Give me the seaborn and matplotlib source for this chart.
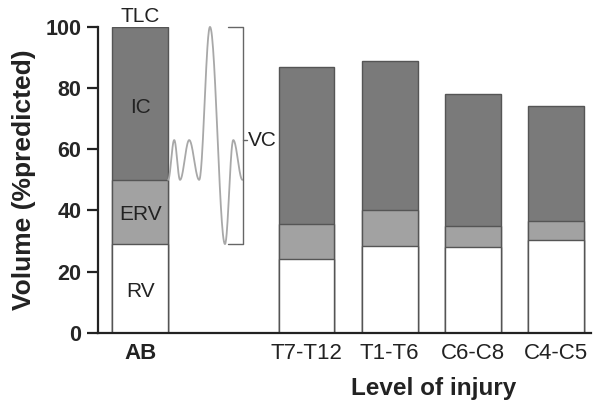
import numpy as np
import pandas as pd
import matplotlib
matplotlib.use("Agg")
import matplotlib.pyplot as plt
import seaborn as sns

sns.set_style("ticks")
plt.rcParams['font.family'] = ['Liberation Sans', 'DejaVu Sans']

groups = ["AB", "T7-T12", "T1-T6", "C6-C8", "C4-C5"]
order = ["AB", " ", "T7-T12", "T1-T6", "C6-C8", "C4-C5"]
rv = [29, 24.2, 28.5, 28.2, 30.2]
erv_top = [50, 35.6, 40, 35, 36.6]
tlc = [100, 87, 89, 78, 74]

df = pd.DataFrame({"group": groups, "rv": rv, "erv_top": erv_top, "tlc": tlc})

fig = plt.figure(figsize=(5.94, 4.01), dpi=100)
ax = fig.add_axes([0.165, 0.170, 0.83, 0.763])

edge = "#555555"
w = 0.67
sns.barplot(data=df, x="group", y="tlc", order=order, color="#7a7a7a",
            edgecolor=edge, linewidth=1.0, width=w, saturation=1, ax=ax)
sns.barplot(data=df, x="group", y="erv_top", order=order, color="#a2a2a2",
            edgecolor=edge, linewidth=1.0, width=w, saturation=1, ax=ax)
sns.barplot(data=df, x="group", y="rv", order=order, color="white",
            edgecolor=edge, linewidth=1.0, width=w, saturation=1, ax=ax)

# spirometry wave (decorative) built from extreme points with cosine segments
wx = [0.337, 0.41, 0.48, 0.59, 0.71, 0.84, 1.02, 1.12, 1.23]
wy = [50, 63, 50, 63, 50, 100, 29, 63, 50]
xs, ys = [], []
for i in range(len(wx) - 1):
    t = np.linspace(0, 1, 30)
    xs.extend(wx[i] + (wx[i + 1] - wx[i]) * t)
    ys.extend(wy[i] + (wy[i + 1] - wy[i]) * (1 - np.cos(np.pi * t)) / 2)
ax.plot(xs, ys, color="#a8a8a8", lw=1.3, clip_on=False)

# VC bracket
bx0, bx1 = 1.06, 1.24
ax.plot([bx0, bx1, bx1, bx0], [100, 100, 29, 29], color="#666666", lw=1.0, clip_on=False)
ax.plot([bx1, bx1 + 0.05], [63, 63], color="#666666", lw=1.0, clip_on=False)
ax.text(bx1 + 0.05, 63, "VC", ha="left", va="center", fontsize=15, color="#222222")

# labels in AB bar
ax.text(0, 101.6, "TLC", ha="center", va="baseline", fontsize=15, color="#222222", clip_on=False)
ax.text(0, 73.5, "IC", ha="center", va="center", fontsize=15, color="#222222")
ax.text(0, 38.6, "ERV", ha="center", va="center", fontsize=15, color="#222222")
ax.text(0, 13.4, "RV", ha="center", va="center", fontsize=15, color="#222222")

ax.set_ylim(0, 100)
ax.set_xlim(-0.506, 5.42)
ax.set_yticks([0, 20, 40, 60, 80, 100])
ax.set_xticks([0, 2, 3, 4, 5])
ax.set_xticklabels(groups, fontsize=16, color="#222222")
ax.get_xticklabels()[0].set_fontweight("bold")
ax.tick_params(axis="y", labelsize=15.5, width=1.6, length=8, pad=4, color="#222222")
ax.tick_params(axis="x", length=0, pad=7)
for lab in ax.get_yticklabels():
    lab.set_fontweight("bold")
ax.set_ylabel("Volume (%predicted)", fontweight="bold", fontsize=19, color="#222222")
ax.yaxis.set_label_coords(-0.125, 0.5)
ax.set_xlabel("Level of injury", fontweight="bold", fontsize=17.5, color="#222222")
ax.xaxis.set_label_coords(0.68, -0.143)
sns.despine(ax=ax)
ax.spines["left"].set_linewidth(1.6)
ax.spines["bottom"].set_linewidth(1.6)
ax.spines["left"].set_color("#222222")
ax.spines["bottom"].set_color("#222222")

fig.savefig("out.png", dpi=100)
